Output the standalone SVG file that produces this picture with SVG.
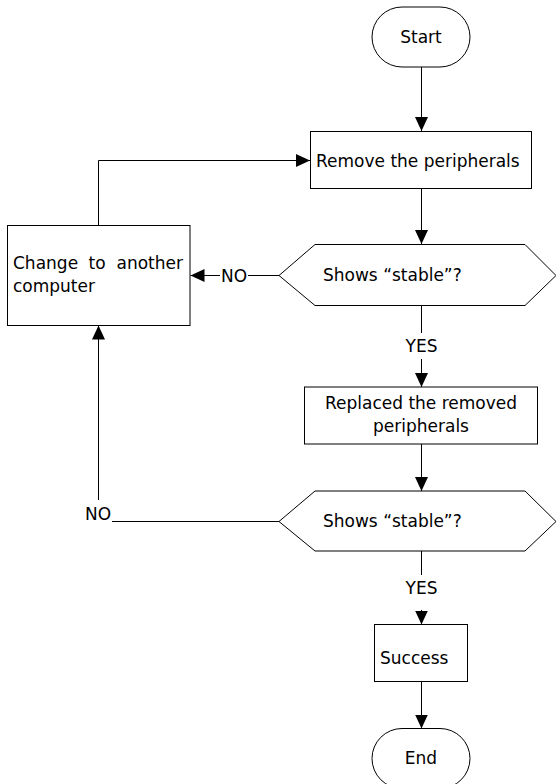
<svg xmlns="http://www.w3.org/2000/svg" width="556" height="784" viewBox="0 0 556 784">
<defs>
<style>
.shape{fill:#fff;stroke:#000;stroke-width:1}
.line{fill:none;stroke:#000;stroke-width:1}
text{font-family:"DejaVu Sans","Verdana",sans-serif;font-size:17px;fill:#000}
.c{text-anchor:middle}
</style>
<marker id="arr" markerUnits="userSpaceOnUse" markerWidth="15" markerHeight="14" refX="14" refY="6.5" orient="auto">
<path d="M0,0 L14,6.5 L0,13 z" fill="#000"/>
</marker>
</defs>
<rect width="556" height="784" fill="#fff"/>
<g id="connectors">
<path class="line" d="M421.5,67 V131" marker-end="url(#arr)"/>
<path class="line" d="M421.5,188.5 V244" marker-end="url(#arr)"/>
<path class="line" d="M98.5,225 V160.5 H310" marker-end="url(#arr)"/>
<path class="line" d="M279,275.5 H248"/>
<path class="line" d="M220,275.5 H190.5" marker-end="url(#arr)"/>
<text class="c" x="234" y="281.5">NO</text>
<path class="line" d="M421.5,305 V333"/>
<text class="c" x="421.5" y="352">YES</text>
<path class="line" d="M421.5,359 V387" marker-end="url(#arr)"/>
<path class="line" d="M421.5,444 V491" marker-end="url(#arr)"/>
<path class="line" d="M279,521.5 H112"/>
<text x="85" y="520">NO</text>
<path class="line" d="M98.5,500 V325.5" marker-end="url(#arr)"/>
<path class="line" d="M421.5,551 V575"/>
<text class="c" x="421.5" y="594">YES</text>
<path class="line" d="M421.5,610 V624.5" marker-end="url(#arr)"/>
<path class="line" d="M421.5,681.5 V728.5" marker-end="url(#arr)"/>
</g>
<g id="start">
<rect class="shape" x="372" y="7" width="98" height="60" rx="30" ry="30"/>
<text class="c" x="421" y="43">Start</text>
</g>
<g id="remove">
<rect class="shape" x="310.5" y="131.5" width="221" height="57"/>
<text x="316" y="166.5">Remove the peripherals</text>
</g>
<g id="decision1">
<polygon class="shape" points="279,275.5 315,244.5 525,244.5 556,275.5 525,305.5 315,305.5"/>
<text x="323" y="281">Shows “stable”?</text>
</g>
<g id="change">
<rect class="shape" x="7.5" y="225.5" width="182.5" height="100"/>
<text y="268.5"><tspan x="13">Change</tspan><tspan x="88.5">to</tspan><tspan x="116.5">another</tspan></text>
<text x="13" y="292">computer</text>
</g>
<g id="replaced">
<rect class="shape" x="304.5" y="387" width="233" height="57"/>
<text class="c" x="421" y="408.5">Replaced the removed</text>
<text class="c" x="421" y="432">peripherals</text>
</g>
<g id="decision2">
<polygon class="shape" points="279,521.5 315,491 525,491 556,521.5 525,551 315,551"/>
<text x="323" y="527">Shows “stable”?</text>
</g>
<g id="success">
<rect class="shape" x="374.5" y="624.5" width="93" height="57"/>
<text x="380" y="664">Success</text>
</g>
<g id="end">
<rect class="shape" x="372" y="728.5" width="98" height="60" rx="30" ry="30"/>
<text class="c" x="421" y="763.5">End</text>
</g>
</svg>
